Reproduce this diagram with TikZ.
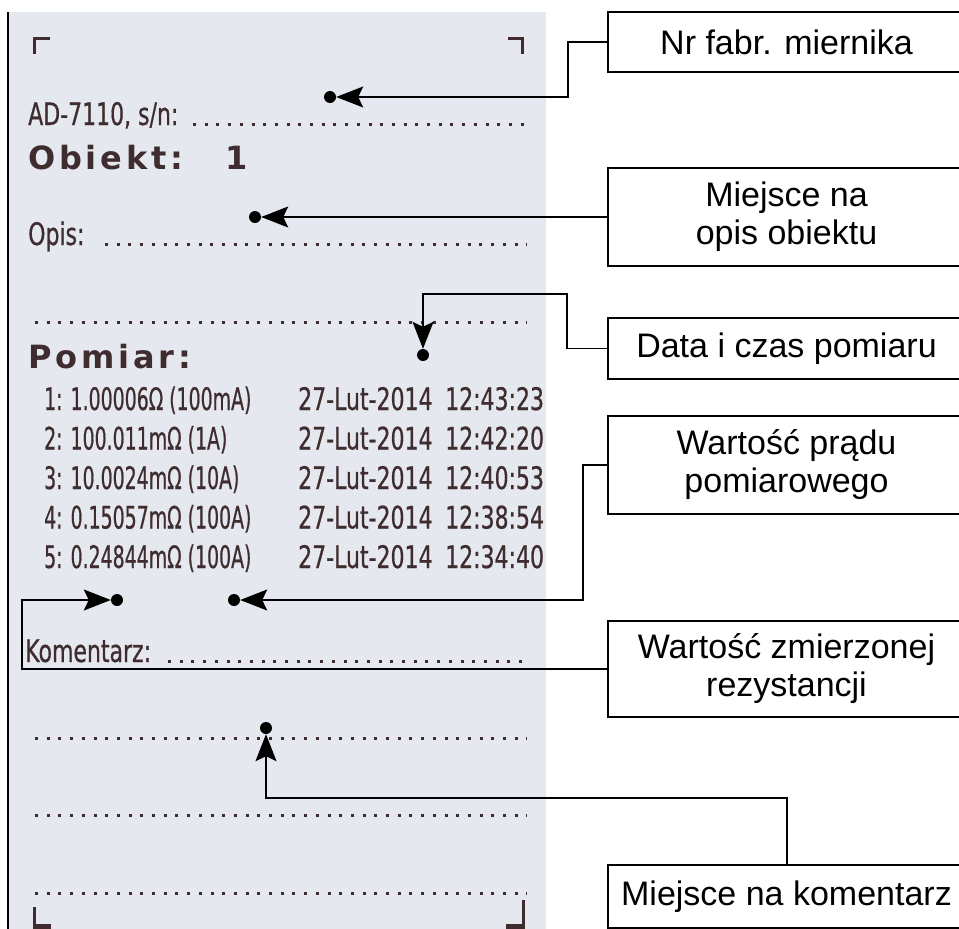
\documentclass[tikz,border=0pt]{standalone}
\usepackage{fontspec}
\setmainfont{Liberation Sans}
\newfontfamily\thermA[FakeStretch=0.61,FakeBold=0.6]{DejaVu Sans}
\newfontfamily\thermB[FakeStretch=0.71,FakeBold=0.6]{DejaVu Sans}
\newfontfamily\thermhead[LetterSpace=12]{DejaVu Sans}
\usetikzlibrary{arrows.meta}
\definecolor{paper}{RGB}{229,233,239}
\definecolor{ink}{RGB}{62,44,46}
\tikzset{
  tl/.style={inner sep=0pt, anchor=base west, text=ink, font=\thermA\fontsize{31}{31}\selectfont},
  tw/.style={inner sep=0pt, anchor=base west, text=ink, font=\thermB\fontsize{31}{31}\selectfont},
  th/.style={inner sep=0pt, anchor=base west, text=ink, font=\thermhead\bfseries\fontsize{32}{32}\selectfont},
  dotline/.style={draw=ink, line width=3pt, dash pattern=on 3pt off 8.7pt},
  corner/.style={fill=ink},
  box/.style={draw=black, line width=1.3pt, inner sep=0pt, minimum width=357pt, align=center,
              font=\fontsize{34}{38}\selectfont},
  dot/.style={circle, fill=black, inner sep=0pt, minimum size=12pt},
  conn/.style={draw=black, line width=1.3pt, -{Stealth[length=27pt,width=21pt,inset=5pt]}},
}
\begin{document}
\begin{tikzpicture}[x=1pt,y=-1pt]
\useasboundingbox (0,0) rectangle (959,929);
% paper
\fill[paper] (9,12) rectangle (546,929);
\draw[black, line width=2pt] (8,12) -- (8,929);
% corner marks
\fill[corner] (33,37) rectangle (36,54);
\fill[corner] (33,37) rectangle (50,40);
\fill[corner] (521,37) rectangle (524,54);
\fill[corner] (508,37) rectangle (524,40);
\fill[corner] (33,907) rectangle (36,929);
\fill[corner] (33,924) rectangle (51,929);
\fill[corner] (522,900) rectangle (525,929);
\fill[corner] (506,924) rectangle (525,929);
% printed text
\node[tw] (sn) at (28,125) {AD-7110, s/n:};
\node[th] (obj) at (28,169) {Obiekt:\hspace{42pt}1};
\node[tw] (opis) at (28,245) {Opis:};
\node[th] (pom) at (28,368) {Pomiar:};
\node[tl] (r1) at (44,410) {1: 1.00006Ω (100mA)};
\node[tl] (r2) at (44,449.5) {2: 100.011mΩ (1A)};
\node[tl] (r3) at (44,489) {3: 10.0024mΩ (10A)};
\node[tl] (r4) at (44,528.5) {4: 0.15057mΩ (100A)};
\node[tl] (r5) at (44,568) {5: 0.24844mΩ (100A)};
\node[tw] (d1) at (298,410) {27-Lut-2014};
\node[tw] (d2) at (298,449.5) {27-Lut-2014};
\node[tw] (d3) at (298,489) {27-Lut-2014};
\node[tw] (d4) at (298,528.5) {27-Lut-2014};
\node[tw] (d5) at (298,568) {27-Lut-2014};
\node[tw] (t1) at (445,410) {12:43:23};
\node[tw] (t2) at (445,449.5) {12:42:20};
\node[tw] (t3) at (445,489) {12:40:53};
\node[tw] (t4) at (445,528.5) {12:38:54};
\node[tw] (t5) at (445,568) {12:34:40};
\node[tw] (kom) at (25,662) {Komentarz:};
% dotted lines
\draw[dotline] (193,124) -- (527,124);
\draw[dotline] (105,244) -- (527,244);
\draw[dotline] (35,322) -- (527,322);
\draw[dotline] (168,661) -- (527,661);
\draw[dotline] (35,738) -- (527,738);
\draw[dotline] (35,815) -- (527,815);
\draw[dotline] (35,893) -- (527,893);
% callout boxes
\node[box, minimum height=60pt] (b1) at (786.5,42) {Nr fabr. miernika};
\node[box, minimum height=98pt] (b2) at (786.5,217) {Miejsce na\\opis obiektu};
\node[box, minimum height=61pt] (b3) at (786.5,348.5) {Data i czas pomiaru};
\node[box, minimum height=98pt] (b4) at (786.5,465) {Wartość prądu\\pomiarowego};
\node[box, minimum height=96pt] (b5) at (786.5,669) {Wartość zmierzonej\\rezystancji};
\node[box, minimum height=63pt] (b6) at (786.5,896.5) {Miejsce na komentarz};
% target dots
\node[dot] (p1) at (330,97) {};
\node[dot] (p2) at (255,217) {};
\node[dot] (p3) at (423,355) {};
\node[dot] (p4) at (234,600) {};
\node[dot] (p5) at (117,600) {};
\node[dot] (p6) at (266,728) {};
\coordinate (c6) at (787,865);
% connectors
\draw[conn] (b1.west) -- (568,42) -- (568,97) -- (p1);
\draw[conn] (b2.west) -- (p2);
\draw[conn] (b3.west) -- (567,348.5) -- (567,294) -- (423,294) -- (p3);
\draw[conn] (b4.west) -- (583,465) -- (583,600) -- (p4);
\draw[conn] (b5.west) -- (22,669) -- (22,600) -- (p5);
\draw[conn] (c6) -- (787,798) -- (266,798) -- (p6);
\end{tikzpicture}
\end{document}
